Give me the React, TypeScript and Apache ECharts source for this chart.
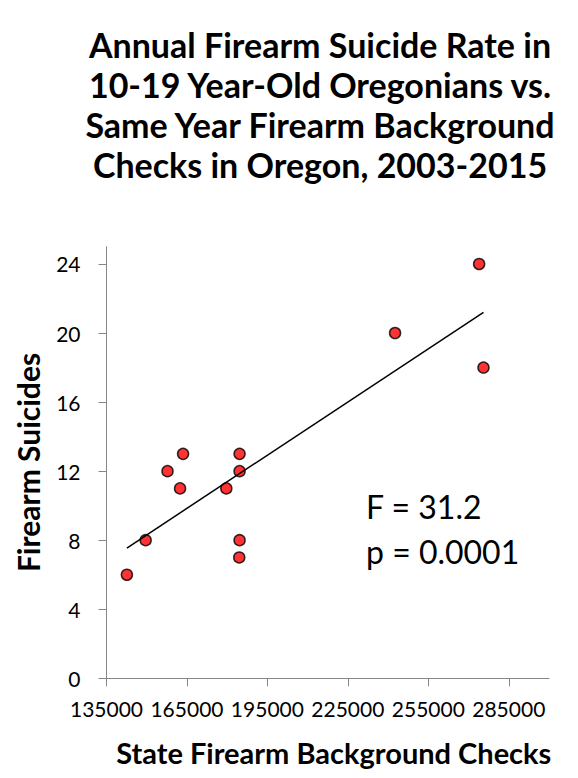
import React, { useEffect, useRef } from "react";
import * as echarts from "echarts";

const backgroundChecks = [142600, 149600, 157750, 163550, 162430, 179680, 184620, 184620, 184620, 184500, 242600, 273950, 275570];
const firearmSuicides = [6, 8, 12, 13, 11, 11, 13, 12, 8, 7, 20, 24, 18];
const xTicks = [135000, 165000, 195000, 225000, 255000, 285000];
const yTicks = [0, 4, 8, 12, 16, 20, 24];
const titleLines = [
  "Annual Firearm Suicide Rate in",
  "10-19 Year-Old Oregonians vs.",
  "Same Year Firearm Background",
  "Checks in Oregon, 2003-2015",
];
const statLines = ["F = 31.2", "p = 0.0001"];

function fitLine(xs: number[], ys: number[]) {
  const n = xs.length;
  const mx = xs.reduce((a, b) => a + b, 0) / n;
  const my = ys.reduce((a, b) => a + b, 0) / n;
  let sxy = 0;
  let sxx = 0;
  for (let i = 0; i < n; i++) {
    sxy += (xs[i] - mx) * (ys[i] - my);
    sxx += (xs[i] - mx) * (xs[i] - mx);
  }
  const b = sxy / sxx;
  const a = my - b * mx;
  const x0 = Math.min(...xs);
  const x1 = Math.max(...xs);
  return [
    [x0, a + b * x0],
    [x1, a + b * x1],
  ];
}

export default function App() {
  const ref = useRef<HTMLDivElement>(null);
  useEffect(() => {
    if (!ref.current) return;
    const chart = echarts.init(ref.current, null, { renderer: "svg" });
    const points = backgroundChecks.map((x, i) => [x, firearmSuicides[i]]);
    const axisColor = "#868686";
    chart.setOption({
      animation: false,
      backgroundColor: "#ffffff",
      textStyle: { fontFamily: "Lato" },
      title: {
        text: titleLines.join("\n"),
        left: 315,
        top: 19,
        textAlign: "center",
        textStyle: {
          fontFamily: "Lato",
          fontWeight: "bold",
          fontSize: 34,
          lineHeight: 40,
          color: "#000",
        },
      },
      grid: { left: 106.5, right: 29, top: 246.7, bottom: 99.7 },
      xAxis: {
        type: "value",
        min: 135000,
        max: 300000,
        splitLine: { show: false },
        axisLine: { lineStyle: { color: axisColor, width: 1 } },
        axisTick: { show: true, length: 8, customValues: xTicks, lineStyle: { color: axisColor } },
        axisLabel: {
          customValues: xTicks,
          formatter: (v: number) => String(v),
          fontSize: 21,
          color: "#000",
          margin: 20,
          fontFamily: "Lato",
        },
        name: "State Firearm Background Checks",
        nameLocation: "middle",
        nameGap: 60,
        nameTextStyle: { fontSize: 29, fontWeight: "bold", color: "#000", fontFamily: "Lato", padding: [0, 0, 0, 12] },
      },
      yAxis: {
        type: "value",
        min: 0,
        max: 25,
        splitLine: { show: false },
        axisLine: { show: true, lineStyle: { color: axisColor, width: 1 } },
        axisTick: { show: true, length: 8, customValues: yTicks, lineStyle: { color: axisColor } },
        axisLabel: {
          customValues: yTicks,
          formatter: (v: number) => String(v),
          fontSize: 21,
          color: "#000",
          margin: 26,
          fontFamily: "Lato",
        },
        name: "Firearm Suicides",
        nameLocation: "middle",
        nameRotate: 90,
        nameGap: 64,
        nameTextStyle: { fontSize: 30, fontWeight: "bold", color: "#000", fontFamily: "Lato" },
      },
      graphic: statLines.map((t, i) => ({
        type: "text",
        left: 366,
        top: 490 + i * 45,
        style: { text: t, fontSize: 32, fontFamily: "Lato", fill: "#000" },
      })),
      series: [
        {
          type: "scatter",
          data: points,
          symbol: "circle",
          symbolSize: 11,
          itemStyle: { color: "#ff0000", borderColor: "#000", borderWidth: 1.5 },
          z: 2,
        },
        {
          type: "line",
          data: fitLine(backgroundChecks, firearmSuicides),
          showSymbol: false,
          symbol: "none",
          lineStyle: { color: "#000", width: 1.5 },
          z: 3,
        },
      ],
    });
    return () => chart.dispose();
  }, []);
  return <div ref={ref} style={{ position: "absolute", left: 0, top: 0, width: 578, height: 778 }} />;
}
